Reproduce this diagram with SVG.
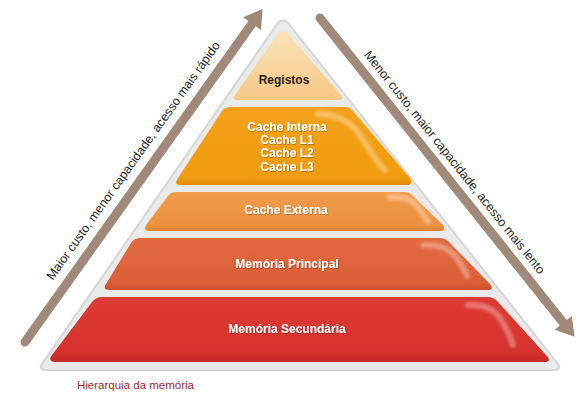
<svg xmlns="http://www.w3.org/2000/svg" width="588" height="403" viewBox="0 0 588 403">
  <defs>
    <linearGradient id="gReg" x1="0" y1="0" x2="0" y2="1">
      <stop offset="0" stop-color="#fbe3b8"/>
      <stop offset="1" stop-color="#f6c886"/>
    </linearGradient>
    <linearGradient id="gCI" x1="0" y1="0" x2="0" y2="1">
      <stop offset="0" stop-color="#f4a21a"/>
      <stop offset="0.9" stop-color="#f09c0e"/>
      <stop offset="1" stop-color="#e08c08"/>
    </linearGradient>
    <linearGradient id="gCE" x1="0" y1="0" x2="0" y2="1">
      <stop offset="0" stop-color="#f19b4a"/>
      <stop offset="0.85" stop-color="#ec913e"/>
      <stop offset="1" stop-color="#dd8232"/>
    </linearGradient>
    <linearGradient id="gMP" x1="0" y1="0" x2="0" y2="1">
      <stop offset="0" stop-color="#e26a40"/>
      <stop offset="0.85" stop-color="#dc5f36"/>
      <stop offset="1" stop-color="#cc522c"/>
    </linearGradient>
    <linearGradient id="gMS" x1="0" y1="0" x2="0" y2="1">
      <stop offset="0" stop-color="#dd3b34"/>
      <stop offset="0.85" stop-color="#d6322d"/>
      <stop offset="1" stop-color="#c42826"/>
    </linearGradient>
    <filter id="soft" x="-30%" y="-30%" width="160%" height="160%">
      <feGaussianBlur stdDeviation="1.8"/>
    </filter>
    <filter id="tsh" x="-10%" y="-30%" width="120%" height="160%">
      <feDropShadow dx="0.6" dy="0.8" stdDeviation="0.5" flood-color="#000" flood-opacity="0.35"/>
    </filter>
  </defs>
  <style>
    .lbl { font-family: "Liberation Sans", Arial, sans-serif; font-weight: bold; font-size: 12px; fill: #ffffff; text-anchor: middle; }
    .dark { fill: #2b1d0e; }
    .arrow { fill: #a08979; }
    .atext { font-family: "Liberation Sans", Arial, sans-serif; font-size: 12.5px; fill: #1e1e1e; }
    .gloss { fill: none; stroke: #ffffff; stroke-opacity: 0.32; stroke-width: 6; stroke-linecap: round; filter: url(#soft); }
    .rim { fill: #eaeaea; stroke: #d6d6d6; stroke-width: 2; stroke-linejoin: round; }
  </style>
  <rect width="588" height="403" fill="#ffffff"/>

  <g id="connectors">
    <g id="arrow-up" transform="translate(25,342) rotate(-54.5)">
      <path class="arrow" d="M0,-4.5 L391,-4.5 L391,-11 L409,0 L391,11 L391,4.5 L0,4.5 A4.5,4.5 0 0 1 0,-4.5 Z"/>
      <text class="atext" x="66" y="-13">Maior custo, menor capacidade, acesso mais rápido</text>
    </g>
    <g id="arrow-down" transform="translate(320,18) rotate(51.4)">
      <path class="arrow" d="M0,-4.5 L390,-4.5 L390,-11 L408,0 L390,11 L390,4.5 L0,4.5 A4.5,4.5 0 0 1 0,-4.5 Z"/>
      <text class="atext" x="56" y="-11">Menor custo, maior capacidade, acesso mais lento</text>
    </g>
  </g>

  <g id="pyramid-rim">
    <path class="rim" d="M277,24 Q283,17 289,24 L558,364 Q562,370 554,370 L46,370 Q38,370 42,364 Z"/>
  </g>

  <g id="registos">
    <path fill="url(#gReg)" d="M277,35 Q283,27 289,35 L341,95 Q345,100 338,100 L238,100 Q231,100 235,95 Z"/>
    <text class="lbl dark" x="284" y="84" font-size="11.5">Registos</text>
  </g>

  <g id="cache-interna">
    <path fill="url(#gCI)" d="M231,107 L345,107 Q350,107 353,111 L410,178 Q414,185 406,185 L181,185 Q173,185 178,178 L222,111 Q225,107 231,107 Z"/>
    <path class="gloss" d="M318,114 Q345,114 360,135 Q375,160 385,170"/>
    <g filter="url(#tsh)">
      <text class="lbl" x="287" y="131">Cache Interna</text>
      <text class="lbl" x="287" y="144">Cache L1</text>
      <text class="lbl" x="287" y="157">Cache L2</text>
      <text class="lbl" x="287" y="171">Cache L3</text>
    </g>
  </g>

  <g id="cache-externa">
    <path fill="url(#gCE)" d="M176,192 L404,192 Q410,192 413,196 L443,225 Q447,231 440,231 L150,231 Q143,231 146,225 L168,196 Q171,192 176,192 Z"/>
    <path class="gloss" d="M390,197 Q410,196 418,207 Q424,216 428,222"/>
    <text class="lbl" x="286" y="214" filter="url(#tsh)">Cache Externa</text>
  </g>

  <g id="memoria-principal">
    <path fill="url(#gMP)" d="M140,238 L439,238 Q446,238 450,243 L490,284 Q495,290 487,290 L110,290 Q102,290 106,284 L131,243 Q134,238 140,238 Z"/>
    <path class="gloss" d="M424,245 Q445,244 455,256 Q463,266 467,276"/>
    <text class="lbl" x="287" y="268" filter="url(#tsh)">Memória Principal</text>
  </g>

  <g id="memoria-secundaria">
    <path fill="url(#gMS)" d="M102,297 L487,297 Q494,297 498,302 L547,356 Q552,362 544,362 L56,362 Q47,362 52,355 L92,302 Q96,297 102,297 Z"/>
    <path class="gloss" d="M468,305 Q490,304 500,318 Q509,332 513,345"/>
    <text class="lbl" x="287" y="333" filter="url(#tsh)">Memória Secundária</text>
  </g>

  <g id="caption">
    <text x="77" y="389" font-family="Liberation Sans, Arial, sans-serif" font-size="11.5" fill="#a3262a">Hierarquia da memória</text>
  </g>
</svg>
